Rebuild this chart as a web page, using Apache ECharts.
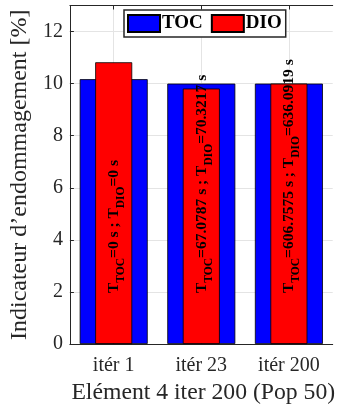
<!DOCTYPE html>
<html>
<head>
<meta charset="utf-8">
<script src="https://cdn.jsdelivr.net/npm/echarts@6/dist/echarts.min.js"></script>
<style>
  html, body { margin: 0; padding: 0; background: #fff; }
  #chart { width: 338px; height: 410px; }
</style>
</head>
<body>
<div id="chart"></div>
<script>
// Damage indicator per iteration, TOC vs DIO, with computing times
var categories = ['itér 1', 'itér 23', 'itér 200'];
var tocValues = [10.17, 10.0, 10.0];
var dioValues = [10.82, 9.81, 10.0];
var tocTimes = ['0', '67.0787', '606.7575'];
var dioTimes = ['0', '70.3217', '636.0919'];
var yTicks = { min: 0, max: 13, interval: 2 };

var FONT = 'Liberation Serif';
var AXIS_COLOR = '#262626';
var GRID_COLOR = '#e4e4e4';

var chart = echarts.init(document.getElementById('chart'), null, { renderer: 'canvas' });

var timeLabel = function (p) {
  var i = p.dataIndex;
  return '{t|T}{s|TOC}{t|=' + tocTimes[i] + ' s ; T}{s|DIO}{t|=' + dioTimes[i] + ' s}';
};

var option = {
  animation: false,
  textStyle: { fontFamily: FONT },
  grid: { left: 69.5, right: -4.5, top: 5.5, bottom: 63.5, containLabel: false },
  legend: {
    left: 124, top: 10,
    padding: [4, 4, 4, 3],
    itemGap: 8,
    itemWidth: 32, itemHeight: 17,
    icon: 'rect',
    backgroundColor: '#fff',
    borderColor: AXIS_COLOR, borderWidth: 1.5,
    textStyle: { fontFamily: FONT, fontWeight: 'bold', fontSize: 19, color: '#000', padding: [0, 0, 0, -3] },
    data: ['TOC', 'DIO']
  },
  xAxis: [
    {
      type: 'category', data: categories, position: 'bottom',
      name: 'Elément 4 iter 200 (Pop 50)', nameLocation: 'middle', nameGap: 37,
      nameTextStyle: { fontFamily: FONT, fontSize: 23.7, color: AXIS_COLOR, padding: [0, 0, 0, 4] },
      axisLine: { show: true, lineStyle: { color: AXIS_COLOR, width: 1 } },
      axisTick: { show: true, inside: true, length: 4, alignWithLabel: true, lineStyle: { color: AXIS_COLOR } },
      axisLabel: { fontFamily: FONT, fontSize: 20, color: AXIS_COLOR, margin: 12 },
      splitLine: { show: true, alignWithLabel: true, lineStyle: { color: GRID_COLOR, width: 1 } }
    },
    {
      type: 'category', data: categories, position: 'top',
      axisLine: { show: true, lineStyle: { color: AXIS_COLOR, width: 1 } },
      axisTick: { show: true, inside: true, length: 4, alignWithLabel: true, lineStyle: { color: AXIS_COLOR } },
      axisLabel: { show: false },
      splitLine: { show: false }
    }
  ],
  yAxis: {
    type: 'value', min: yTicks.min, max: yTicks.max, interval: yTicks.interval,
    name: 'Indicateur d’endommagement [%]', nameLocation: 'middle', nameGap: 31,
    nameTextStyle: { fontFamily: FONT, fontSize: 24, color: AXIS_COLOR },
    axisLine: { show: true, lineStyle: { color: AXIS_COLOR, width: 1 } },
    axisTick: { show: true, inside: true, length: 4, lineStyle: { color: AXIS_COLOR } },
    axisLabel: { fontFamily: FONT, fontSize: 20, color: AXIS_COLOR, margin: 7, showMaxLabel: false },
    splitLine: { show: true, lineStyle: { color: GRID_COLOR, width: 1 } }
  },
  series: [
    {
      name: 'TOC', type: 'bar', xAxisIndex: 0, data: tocValues,
      barWidth: 68,
      itemStyle: { color: '#0000ff', borderColor: '#000', borderWidth: 0.8 }
    },
    {
      name: 'DIO', type: 'bar', xAxisIndex: 1, data: dioValues,
      barWidth: 37,
      itemStyle: { color: '#ff0000', borderColor: '#000', borderWidth: 0.8 },
      label: {
        show: true,
        position: 'insideBottom',
        distance: 51,
        rotate: 90,
        align: 'left',
        verticalAlign: 'middle',
        formatter: timeLabel,
        rich: {
          t: { fontFamily: FONT, fontWeight: 'bold', fontSize: 15.5, lineHeight: 15.5, color: '#000', verticalAlign: 'top' },
          s: { fontFamily: FONT, fontWeight: 'bold', fontSize: 11.5, lineHeight: 11.5, color: '#000', verticalAlign: 'top', padding: [9, 0, 0, 0] }
        }
      }
    }
  ]
};

chart.setOption(option);
</script>
</body>
</html>
